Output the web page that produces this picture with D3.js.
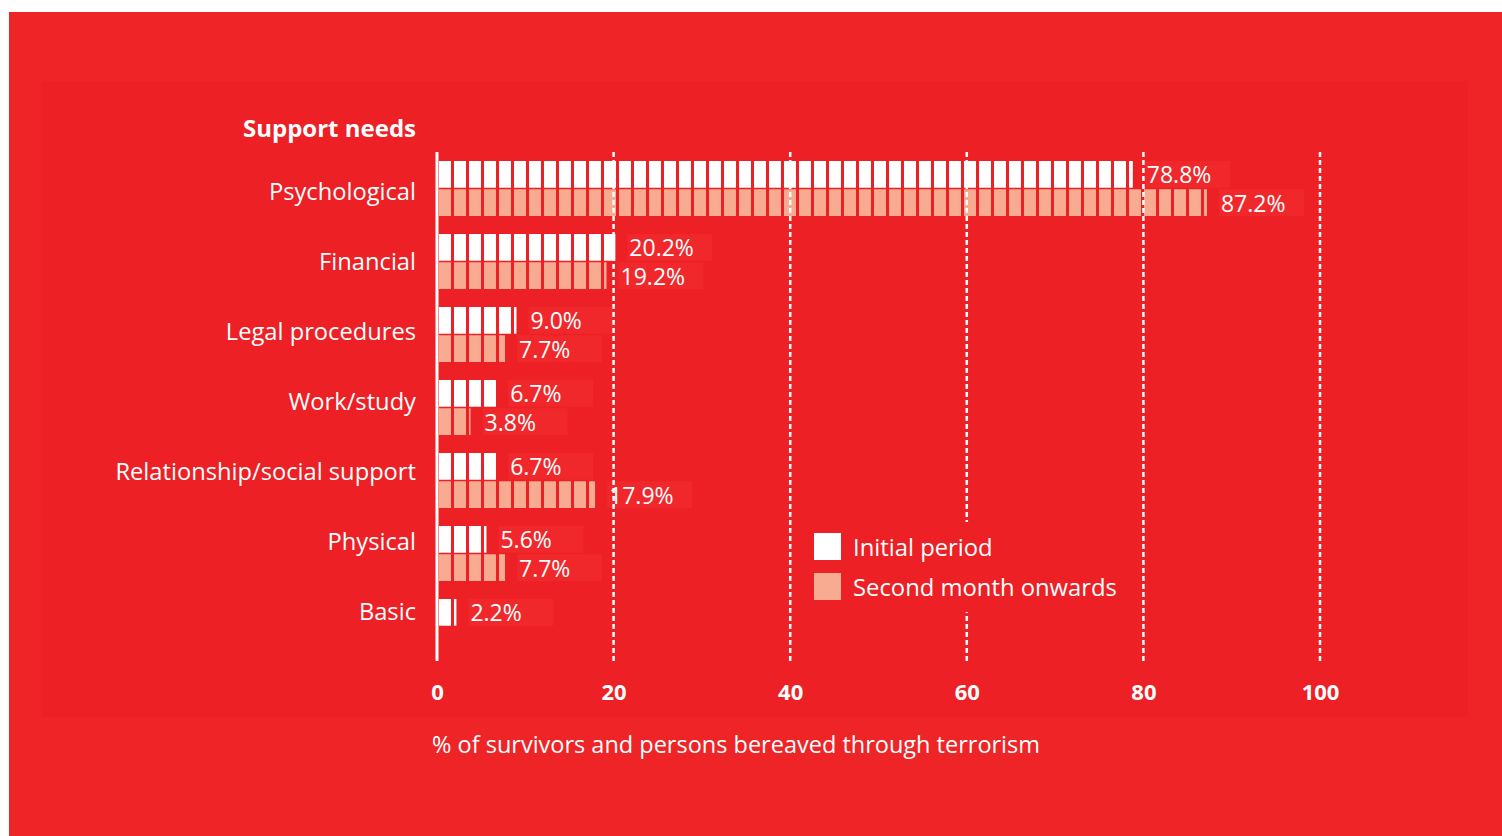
<!DOCTYPE html>
<html>
<head>
<meta charset="utf-8">
<script src="https://cdn.jsdelivr.net/npm/d3@7"></script>
<style>
  html, body { margin: 0; padding: 0; background: #ffffff; }
  svg text { font-family: "Open Sans", sans-serif; fill: #ffffff; }
</style>
</head>
<body>
<svg id="chart" width="1502" height="836"></svg>
<script>
// data
const categories = ["Psychological", "Financial", "Legal procedures", "Work/study",
                    "Relationship/social support", "Physical", "Basic"];
const initialPeriod = [78.8, 20.2, 9.0, 6.7, 6.7, 5.6, 2.2];
const secondMonth = [87.2, 19.2, 7.7, 3.8, 17.9, 7.7, null];
const seriesNames = ["Initial period", "Second month onwards"];
const xTicks = [0, 20, 40, 60, 80, 100];

const seriesColors = ["#ffffff", "#f8ab91"];
const bgRed = "#ee2427";
const panelRed = "#ec2025";

const svg = d3.select("#chart");

// outer red card + slightly darker inner panel
svg.append("rect").attr("x", 9).attr("y", 12).attr("width", 1493).attr("height", 824).attr("fill", bgRed);
svg.append("rect").attr("x", 42).attr("y", 81).attr("width", 1426).attr("height", 636).attr("fill", panelRed);

const xScale = d3.scaleLinear().domain([0, 100]).range([437, 1320]);

// one band per category (73px pitch), two bars inside it
const rowStep = 73, rowGap = 18;
const yScale = d3.scaleBand()
    .domain(categories)
    .range([161, 161 + rowStep * categories.length - rowGap])
    .paddingInner(rowGap / rowStep)
    .paddingOuter(0)
    .align(0);
const ySub = d3.scaleBand()
    .domain([0, 1])
    .range([0, yScale.bandwidth()])
    .paddingInner(3 / 55);

// the category names sit on a slightly tighter pitch than the bars
const yLabel = d3.scalePoint()
    .domain(categories)
    .range([191, 611]);

const segPitch = 15, segGap = 3;

let rows = [];
categories.forEach(function (c, i) {
    [initialPeriod[i], secondMonth[i]].forEach(function (v, s) {
        if (v != null) rows.push({cat: c, series: s, value: v});
    });
});

/* segmented bars */
const plot = svg.append("g");
rows.forEach(function (d) {
    let x0 = xScale(0) + 2, x1 = xScale(d.value);
    let y = yScale(d.cat) + ySub(d.series);
    let starts = d3.range(x0, x1, segPitch);
    plot.selectAll(null)
        .data(starts)
        .enter()
        .append("rect")
        .attr("x", function (sx) { return sx; })
        .attr("y", y)
        .attr("width", function (sx) { return Math.max(0, Math.min(segPitch - segGap, x1 - sx)); })
        .attr("height", ySub.bandwidth())
        .attr("fill", seriesColors[d.series]);
});

/* faint label boxes */
const labels = svg.append("g");
labels.selectAll("rect.lblbox")
    .data(rows)
    .enter()
    .append("rect")
    .attr("class", "lblbox")
    .attr("x", function (d) { return xScale(d.value) + 12; })
    .attr("y", function (d) { return yScale(d.cat) + ySub(d.series); })
    .attr("width", 85)
    .attr("height", ySub.bandwidth())
    .attr("fill", "#f0282b");

/* dashed gridlines, drawn over the bars */
svg.append("g")
    .selectAll("line")
    .data(xTicks.slice(1))
    .enter()
    .append("line")
    .attr("x1", function (d) { return xScale(d); })
    .attr("x2", function (d) { return xScale(d); })
    .attr("y1", 152)
    .attr("y2", 661)
    .attr("stroke", "#ffffff")
    .attr("stroke-width", 2.5)
    .attr("stroke-dasharray", "5,3");

labels.selectAll("text.val")
    .data(rows)
    .enter()
    .append("text")
    .attr("class", "val")
    .attr("x", function (d) { return xScale(d.value) + 14; })
    .attr("y", function (d) { return yScale(d.cat) + ySub(d.series) + ySub.bandwidth() / 2 + 1; })
    .attr("dy", "0.35em")
    .attr("font-size", "23px")
    .text(function (d) { return d.value.toFixed(1) + "%"; });

/* zero axis line */
svg.append("line")
    .attr("x1", xScale(0)).attr("x2", xScale(0))
    .attr("y1", 152).attr("y2", 661)
    .attr("stroke", "#ffffff").attr("stroke-width", 3);

/* category labels */
svg.append("g")
    .selectAll("text")
    .data(categories)
    .enter()
    .append("text")
    .attr("x", 416)
    .attr("y", function (d) { return yLabel(d); })
    .attr("dy", "0.36em")
    .attr("text-anchor", "end")
    .attr("font-size", "23.7px")
    .text(function (d) { return d; });

svg.append("text")
    .attr("x", 416).attr("y", 137)
    .attr("text-anchor", "end")
    .attr("font-size", "24px")
    .attr("font-weight", 700)
    .text("Support needs");

/* x axis labels */
let axis = d3.axisBottom(xScale).tickValues(xTicks).tickSize(0).tickPadding(0);
let axisG = svg.append("g")
    .attr("transform", "translate(0,684)")
    .call(axis);
axisG.select(".domain").remove();
axisG.selectAll("text")
    .attr("font-size", "22px")
    .attr("font-weight", 700)
    .attr("font-family", "'Open Sans', sans-serif")
    .attr("fill", "#ffffff");

svg.append("text")
    .attr("x", 432).attr("y", 753)
    .attr("font-size", "23.5px")
    .text("% of survivors and persons bereaved through terrorism");

/* legend */
let legend = svg.append("g");
legend.append("rect")
    .attr("x", 800).attr("y", 522).attr("width", 334).attr("height", 90)
    .attr("fill", panelRed);
seriesNames.forEach(function (name, i) {
    legend.append("rect")
        .attr("x", 814).attr("y", 533 + i * 40)
        .attr("width", 27).attr("height", 27)
        .attr("fill", seriesColors[i]);
    legend.append("text")
        .attr("x", 853).attr("y", 547 + i * 40)
        .attr("dy", "0.36em")
        .attr("font-size", "23.8px")
        .text(name);
});
</script>
</body>
</html>
